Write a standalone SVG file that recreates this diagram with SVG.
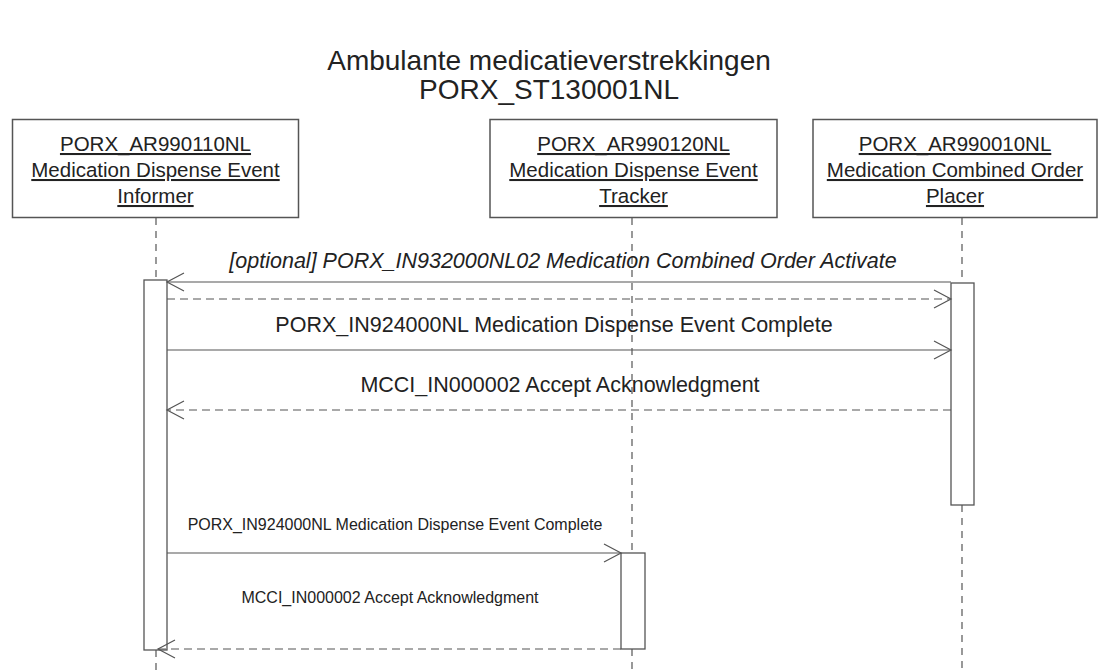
<svg xmlns="http://www.w3.org/2000/svg" width="1099" height="670" viewBox="0 0 1099 670">
<style>
.title{font-family:"Liberation Sans",Arial,sans-serif;font-size:28px;fill:#222;text-anchor:middle}
.box{fill:#fff;stroke:#555;stroke-width:1.5}
.lbl{font-family:"Liberation Sans",Arial,sans-serif;font-size:20.5px;fill:#222;text-anchor:middle;text-decoration:underline}
.life{stroke:#555;stroke-width:1.2;stroke-dasharray:7 6;fill:none}
.act{fill:#fff;stroke:#555;stroke-width:1.3}
.msg{stroke:#555;stroke-width:1.2;fill:none}
.dash{stroke-dasharray:8 5}
.head{stroke:#555;stroke-width:1.2;fill:none}
.mt{font-family:"Liberation Sans",Arial,sans-serif;font-size:21.5px;fill:#222;text-anchor:middle}
.st{font-family:"Liberation Sans",Arial,sans-serif;font-size:16px;fill:#222;text-anchor:middle}
</style>
<g id="title">
<text class="title" x="549" y="70">Ambulante medicatieverstrekkingen</text>
<text class="title" x="549" y="99">PORX_ST130001NL</text>
</g>
<g id="lifelines">
<line class="life" x1="156" y1="218" x2="156" y2="280"/>
<line class="life" x1="156" y1="650" x2="156" y2="670"/>
<line class="life" x1="632" y1="218" x2="632" y2="553"/>
<line class="life" x1="632" y1="649" x2="632" y2="670"/>
<line class="life" x1="962" y1="218" x2="962" y2="283"/>
<line class="life" x1="962" y1="505" x2="962" y2="670"/>
</g>
<g id="informer">
<rect class="box" x="12.5" y="119.5" width="286" height="98"/>
<text class="lbl" x="155.5" y="151">PORX_AR990110NL</text>
<text class="lbl" x="155.5" y="177">Medication Dispense Event</text>
<text class="lbl" x="155.5" y="203">Informer</text>
<rect class="act" x="144" y="280" width="23" height="370"/>
</g>
<g id="tracker">
<rect class="box" x="490" y="119.5" width="287" height="98"/>
<text class="lbl" x="633.5" y="151">PORX_AR990120NL</text>
<text class="lbl" x="633.5" y="177">Medication Dispense Event</text>
<text class="lbl" x="633.5" y="203">Tracker</text>
<rect class="act" x="621" y="553" width="24" height="96"/>
</g>
<g id="placer">
<rect class="box" x="813" y="119.5" width="284" height="98"/>
<text class="lbl" x="955" y="151">PORX_AR990010NL</text>
<text class="lbl" x="955" y="177">Medication Combined Order</text>
<text class="lbl" x="955" y="203">Placer</text>
<rect class="act" x="951" y="283" width="23" height="222"/>
</g>
<g id="connectors">
<line class="msg" x1="951" y1="282" x2="167" y2="282"/>
<polyline class="head" points="184,273 167,282 184,291"/>
<text class="mt" x="563" y="268" font-style="italic">[optional] PORX_IN932000NL02 Medication Combined Order Activate</text>
<line class="msg dash" x1="167" y1="299" x2="951" y2="299"/>
<polyline class="head" points="934,290 951,299 934,308"/>
<line class="msg" x1="167" y1="350" x2="951" y2="350"/>
<polyline class="head" points="934,341 951,350 934,359"/>
<text class="mt" x="554" y="332">PORX_IN924000NL Medication Dispense Event Complete</text>
<line class="msg dash" x1="951" y1="410" x2="167" y2="410"/>
<polyline class="head" points="184,401 167,410 184,419"/>
<text class="mt" x="560" y="392">MCCI_IN000002 Accept Acknowledgment</text>
<line class="msg" x1="167" y1="553" x2="621" y2="553"/>
<polyline class="head" points="604,544 621,553 604,562"/>
<text class="st" x="395" y="530">PORX_IN924000NL Medication Dispense Event Complete</text>
<line class="msg dash" x1="621" y1="649" x2="158" y2="649"/>
<polyline class="head" points="175,640 158,649 175,658"/>
<text class="st" x="390" y="603">MCCI_IN000002 Accept Acknowledgment</text>
</g>
</svg>
